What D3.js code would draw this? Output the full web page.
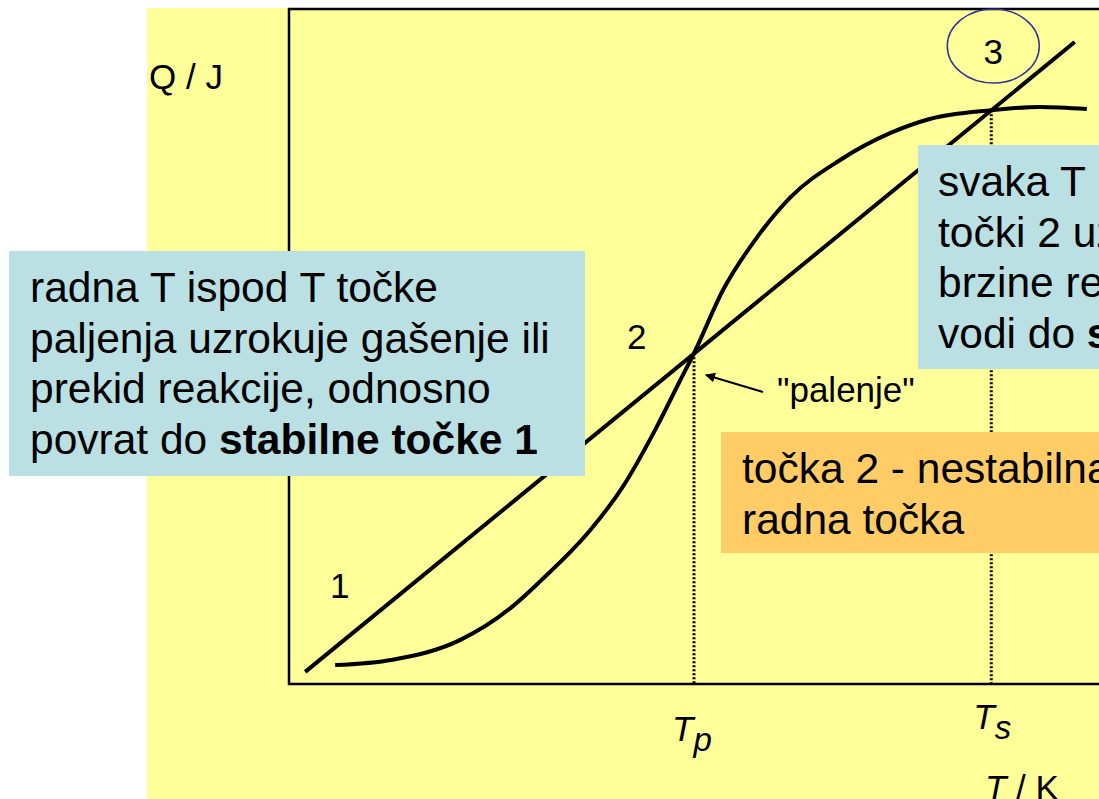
<!DOCTYPE html>
<html>
<head>
<meta charset="utf-8">
<script src="https://cdn.jsdelivr.net/npm/d3@7"></script>
<style>
  body { margin: 0; background: #fff; }
  text { font-family: "Liberation Sans", Arial, sans-serif; }
</style>
</head>
<body>
<div id="chart"></div>
<script>
// straight line: heat removal
const lineT = [2, 97];
const lineQ = [1.8, 95.1];

// S-curve: heat generation
const curveT = [5.7, 12.8, 21.1, 27.3, 31.0, 37.2, 41.2, 45.4, 48.3, 50.0, 53.6, 57.8, 61.9, 68.0, 74.2, 79.1, 86.7, 92.7, 98.5];
const curveQ = [2.8, 3.6, 6.5, 11.2, 15.2, 22.8, 29.2, 38.1, 45.0, 49.0, 58.4, 66.2, 72.1, 77.6, 81.6, 83.7, 85.0, 85.5, 85.2];

// operating points
const pointNames = ["1", "2", "3"];
const Tp = 50.0, Qp = 49.0;
const Ts = 86.7, Qs = 85.0;

const W = 1099, H = 799;

const svg = d3.select("#chart")
  .append("svg")
    .attr("width", W)
    .attr("height", H);

// slide background
svg.append("rect")
  .attr("x", 147).attr("y", 8)
  .attr("width", W - 147).attr("height", H - 8)
  .attr("fill", "#ffff99");

const x = d3.scaleLinear().domain([0, 100]).range([289, 1099]);
const y = d3.scaleLinear().domain([0, 100]).range([684, 9]);

// frame (axes)
svg.append("path")
  .attr("fill", "none")
  .attr("stroke", "#000")
  .attr("stroke-width", 2.5)
  .attr("d", `M${x(110)},${y(100)}H${x(0)}V${y(0)}H${x(110)}`);

// dotted drops to the T axis
svg.selectAll(".drop")
  .data([[Tp, Qp], [Ts, Qs]])
  .join("line")
    .attr("x1", d => x(d[0])).attr("x2", d => x(d[0]))
    .attr("y1", d => y(d[1])).attr("y2", y(0))
    .attr("stroke", "#000")
    .attr("stroke-width", 3)
    .attr("stroke-dasharray", "2,2");

// straight line
svg.append("path")
  .attr("fill", "none")
  .attr("stroke", "#000")
  .attr("stroke-width", 4)
  .attr("d", d3.line().x(d => x(d[0])).y(d => y(d[1]))(d3.zip(lineT, lineQ)));

// S-curve
svg.append("path")
  .attr("fill", "none")
  .attr("stroke", "#000")
  .attr("stroke-width", 4)
  .attr("d", d3.line().curve(d3.curveMonotoneX)
    .x(d => x(d[0])).y(d => y(d[1]))(d3.zip(curveT, curveQ)));

// axis labels
svg.append("text")
  .attr("x", 149).attr("y", 89)
  .attr("font-size", 35)
  .text("Q / J");

const tk = svg.append("text")
  .attr("x", 985).attr("y", 800)
  .attr("font-size", 35);
tk.append("tspan").attr("font-style", "italic").text("T");
tk.append("tspan").text(" / K");

// Tp and Ts
function tLabel(px, py, sub) {
  const t = svg.append("text")
    .attr("x", px).attr("y", py)
    .attr("font-size", 35)
    .attr("font-style", "italic");
  t.append("tspan").text("T");
  t.append("tspan").attr("dy", 10).attr("font-size", 33).text(sub);
}
tLabel(x(Tp) - 22, 741, "p");
tLabel(x(Ts) - 18, 729, "s");

// point numbers
svg.append("text").attr("x", 330).attr("y", 598).attr("font-size", 35).text(pointNames[0]);
svg.append("text").attr("x", 627).attr("y", 349).attr("font-size", 35).text(pointNames[1]);
svg.append("ellipse")
  .attr("cx", x(Ts) + 2).attr("cy", 46)
  .attr("rx", 46).attr("ry", 37)
  .attr("fill", "none")
  .attr("stroke", "#333399")
  .attr("stroke-width", 1.5);
svg.append("text")
  .attr("x", x(Ts) + 2).attr("y", 64)
  .attr("text-anchor", "middle")
  .attr("font-size", 35)
  .text(pointNames[2]);

// "palenje" with arrow
svg.append("defs").append("marker")
  .attr("id", "head")
  .attr("viewBox", "0 0 10 10")
  .attr("refX", 9).attr("refY", 5)
  .attr("markerWidth", 5).attr("markerHeight", 5)
  .attr("orient", "auto")
  .append("path").attr("d", "M0,0L10,5L0,10z").attr("fill", "#000");
svg.append("line")
  .attr("x1", 763).attr("y1", 392)
  .attr("x2", 706).attr("y2", 375)
  .attr("stroke", "#000")
  .attr("stroke-width", 2)
  .attr("marker-end", "url(#head)");
svg.append("text")
  .attr("x", 777).attr("y", 402)
  .attr("font-size", 35)
  .text("\"palenje\"");

// text boxes
function box(bx, by, bw, bh, fill, tx, lines) {
  svg.append("rect")
    .attr("x", bx).attr("y", by)
    .attr("width", bw).attr("height", bh)
    .attr("fill", fill);
  const t = svg.append("text").attr("font-size", 42.5);
  lines.forEach((ln, i) => {
    const row = t.append("tspan").attr("x", tx).attr("y", by + 51 + i * 50.5);
    ln.forEach(part => {
      row.append("tspan")
        .attr("font-weight", part.b ? "bold" : null)
        .text(part.s);
    });
  });
}

box(9, 251, 576, 225, "#bbe0e3", 30, [
  [{s: "radna T ispod T točke"}],
  [{s: "paljenja uzrokuje gašenje ili"}],
  [{s: "prekid reakcije, odnosno"}],
  [{s: "povrat do "}, {s: "stabilne točke 1", b: true}]
]);

box(918, 145, 400, 224, "#bbe0e3", 938, [
  [{s: "svaka T iznad T u"}],
  [{s: "točki 2 uzrokuje porast"}],
  [{s: "brzine reakcije i"}],
  [{s: "vodi do "}, {s: "stabilne točke 3", b: true}]
]);

box(721, 432, 500, 121, "#ffcc66", 742, [
  [{s: "točka 2 - nestabilna"}],
  [{s: "radna točka"}]
]);
</script>
</body>
</html>
